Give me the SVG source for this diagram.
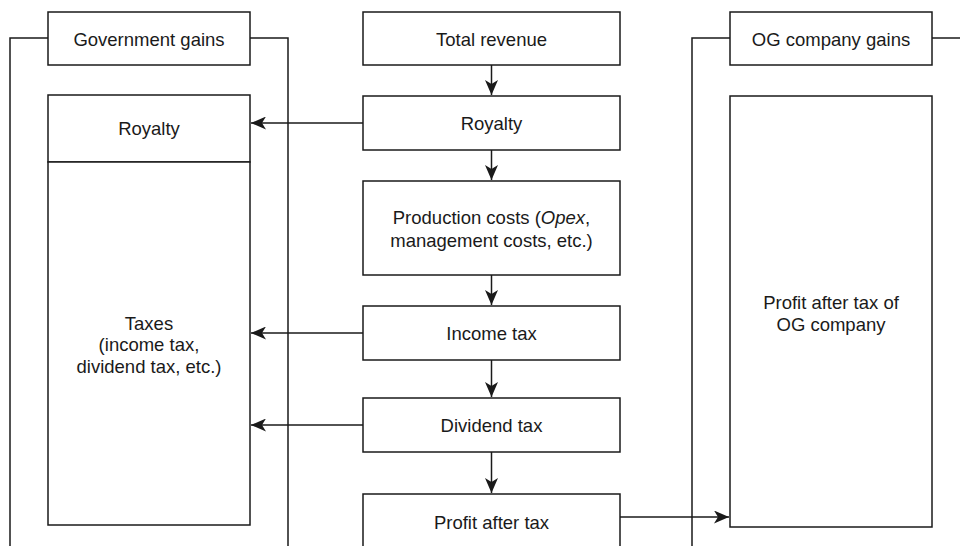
<svg xmlns="http://www.w3.org/2000/svg" width="960" height="546" viewBox="0 0 960 546">
<style>
.box{fill:#fff;stroke:#1a1a1a;stroke-width:1.5}
.ln{fill:none;stroke:#1a1a1a;stroke-width:1.5}
.ar{fill:none;stroke:#1a1a1a;stroke-width:1.5;marker-end:url(#ah)}
text{font-family:"Liberation Sans",Arial,sans-serif;font-size:18.5px;fill:#1a1a1a;text-anchor:middle}
</style>
<defs>
<marker id="ah" markerUnits="userSpaceOnUse" markerWidth="16" markerHeight="13" refX="15" refY="6.5" orient="auto">
<path d="M0,0 L15,6.5 L0,13 L4,6.5 z" fill="#1a1a1a"/>
</marker>
</defs>
<rect width="960" height="546" fill="#fff"/>
<g id="connectors">
<path class="ln" d="M48,38 H10 V546"/>
<path class="ln" d="M250,38 H288 V546"/>
<path class="ln" d="M730,38 H692 V546"/>
<path class="ln" d="M932,38 H960"/>
<path class="ar" d="M491.5,65 V95"/>
<path class="ar" d="M491.5,150 V180"/>
<path class="ar" d="M491.5,275 V305"/>
<path class="ar" d="M491.5,360 V397"/>
<path class="ar" d="M491.5,452 V493"/>
<path class="ar" d="M363,123 H251"/>
<path class="ar" d="M363,333 H251"/>
<path class="ar" d="M363,425 H251"/>
<path class="ar" d="M620,517 H729"/>
</g>
<g id="gov-gains"><rect class="box" x="48" y="12" width="202" height="53"/><text x="149" y="46">Government gains</text></g>
<g id="gov-royalty"><rect class="box" x="48" y="95" width="202" height="67"/><text x="149" y="135">Royalty</text></g>
<g id="gov-taxes"><rect class="box" x="48" y="162" width="202" height="363"/><text x="149" y="330">Taxes</text><text x="149" y="351">(income tax,</text><text x="149" y="373">dividend tax, etc.)</text></g>
<g id="total-revenue"><rect class="box" x="363" y="12" width="257" height="53"/><text x="491.5" y="46">Total revenue</text></g>
<g id="royalty"><rect class="box" x="363" y="96" width="257" height="54"/><text x="491.5" y="130">Royalty</text></g>
<g id="production-costs"><rect class="box" x="363" y="181" width="257" height="94"/><text x="491.5" y="224">Production costs (<tspan font-style="italic">Opex</tspan>,</text><text x="491.5" y="247">management costs, etc.)</text></g>
<g id="income-tax"><rect class="box" x="363" y="306" width="257" height="54"/><text x="491.5" y="340">Income tax</text></g>
<g id="dividend-tax"><rect class="box" x="363" y="398" width="257" height="54"/><text x="491.5" y="432">Dividend tax</text></g>
<g id="profit-after-tax"><rect class="box" x="363" y="494" width="257" height="70"/><text x="491.5" y="529">Profit after tax</text></g>
<g id="og-gains"><rect class="box" x="730" y="12" width="202" height="53"/><text x="831" y="46">OG company gains</text></g>
<g id="og-profit"><rect class="box" x="730" y="96" width="202" height="431"/><text x="831" y="309">Profit after tax of</text><text x="831" y="331">OG company</text></g>
</svg>
